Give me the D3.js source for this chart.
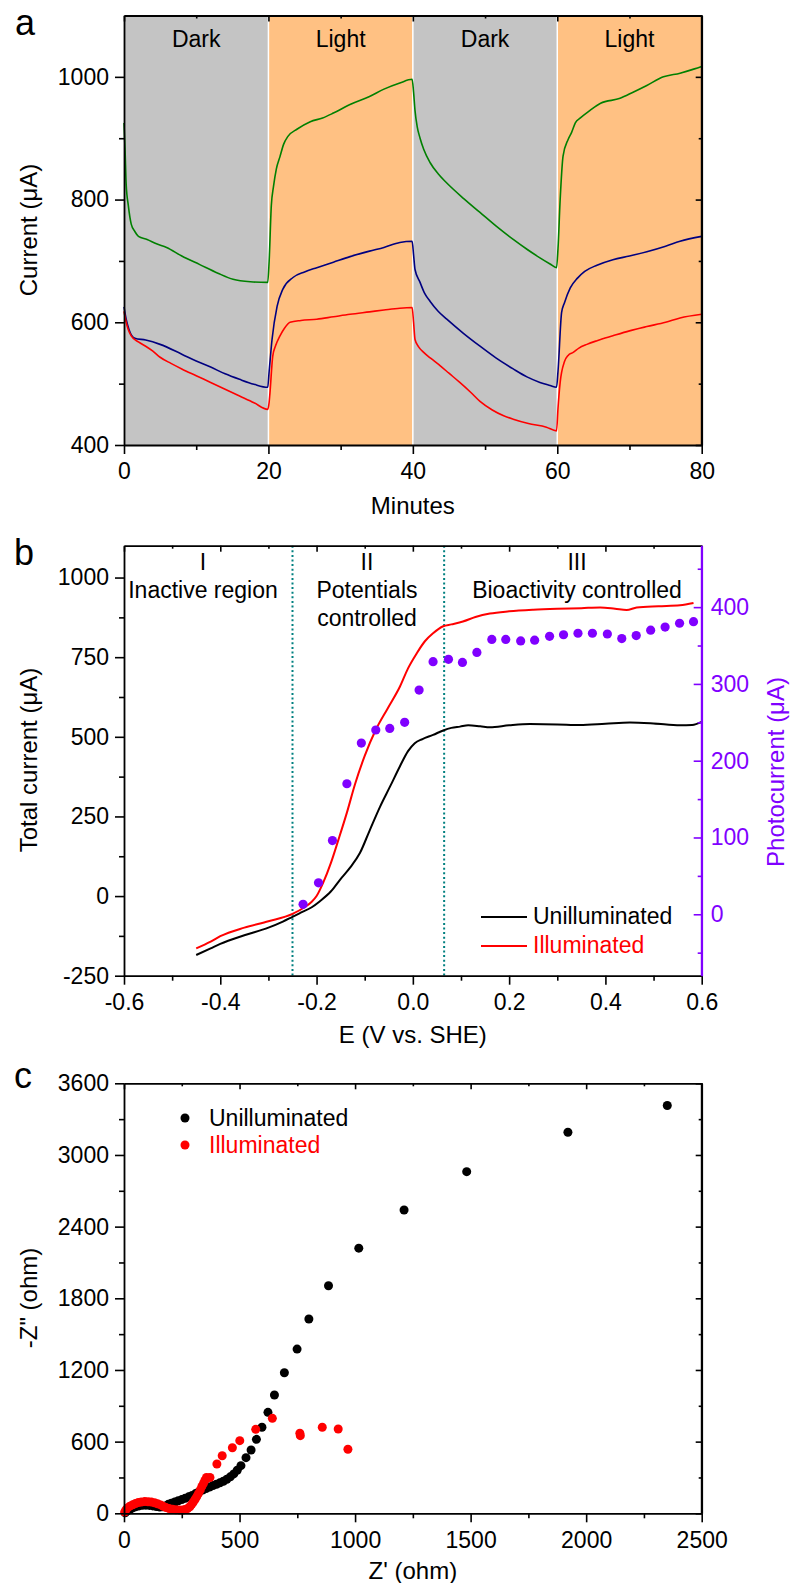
<!DOCTYPE html>
<html>
<head>
<meta charset="utf-8">
<script src="https://cdn.jsdelivr.net/npm/d3@7"></script>
<style>
body { margin: 0; background: #fff; }
svg text { font-family: "Liberation Sans", Arial, sans-serif; font-size: 23px; }
svg text.title { font-size: 24px; }
.tick text { fill: currentColor; }
.domain { stroke-width: 1.8px; }
.tick line { stroke-width: 1.6px; }
</style>
</head>
<body>
<div id="chart"></div>
<script>
// ---- Data: panel a (time in minutes, current in µA) ----
const bandStarts = [0, 20, 40, 60];
const bandLabels = ["Dark", "Light", "Dark", "Light"];

const greenCurrent = [
    [0,925],[0.15,880],[0.3,825],[0.6,790],[1,760],[1.5,748],[2,740],[3.2,735],[4.5,728],[5.9,722],[8,708],[10.5,694],[13,680],[15.1,670],[17.5,666],[19.9,665],
    [20.1,700],[20.4,790],[20.7,821],[21.1,850],[21.6,870],[22.1,890],[22.7,903],[24,915],[25.8,927],[27.5,933],[29,941],[31.3,955],[34,968],[36,980],[38.2,990],[39.9,996],
    [40.1,975],[40.3,945],[40.6,919],[41,900],[41.5,882],[42.4,860],[43.5,842],[44.7,827],[47,802],[49.3,779],[51.5,757],[53.9,735],[55.8,719],[57.6,705],[59,695],[59.9,689],
    [60.1,720],[60.4,800],[60.8,871],[61.5,898],[62,910],[62.5,925],[63.2,933],[64.5,945],[66,957],[68.7,965],[70.5,975],[72.4,986],[74.7,1000],[77,1006],[79,1013],[80,1017]
];
const navyCurrent = [
    [0,625],[0.3,605],[0.7,588],[1.5,574],[3,571],[5,564],[8,548],[10,537],[12,527],[14,516],[16,507],[18,499],[19.9,494],
    [20.1,520],[20.5,572],[21.2,626],[22,654],[23.4,673],[25,682],[26.7,689],[29,698],[31.3,707],[34,716],[36,722],[38.2,730],[39.9,732],
    [40.1,710],[40.3,686],[41,665],[41.6,648],[42.4,634],[43.5,618],[44.7,605],[47,582],[49.3,561],[51.5,542],[53.9,524],[55.8,511],[57.6,502],[59,497],[59.9,494],
    [60.1,520],[60.6,616],[61,632],[61.8,656],[62.8,672],[63.8,683],[65.5,693],[67.7,702],[70,708],[72.4,715],[75,724],[77,732],[80,740]
];
const redCurrent = [
    [0,618],[0.3,600],[0.6,588],[1,578],[2,568],[3,561],[4,553],[5,543],[6.5,533],[8,524],[10,513],[12,502],[14,491],[16,480],[18,469],[19.9,458],
    [20.1,470],[20.2,483],[20.6,545],[21,562],[21.6,578],[22.2,590],[23,600],[24.5,603],[26.7,605],[29,609],[31.3,613],[34,617],[36,620],[38.2,623],[39.9,624],
    [40.1,600],[40.3,572],[40.8,560],[41.5,551],[42.5,541],[43.8,529],[45,517],[46.5,502],[48,486],[49.3,471],[51,457],[52.5,448],[53.9,442],[56,435],[58.5,429],[59.9,423],
    [60.1,460],[60.4,502],[61,536],[61.5,546],[62.2,551],[63,558],[64.1,564],[65.5,570],[67.7,578],[70,586],[72.4,593],[75,600],[77,607],[80,613]
];

// ---- Data: panel b (E in V vs SHE, current in µA) ----
const darkLSV = [
    [-0.45,-185],[-0.42,-164],[-0.4,-150],[-0.35,-123],[-0.3,-99],[-0.27,-80],[-0.25,-65],[-0.234,-53],[-0.21,-35],[-0.193,-16],[-0.17,15],[-0.151,52],[-0.13,90],[-0.11,135],[-0.09,205],[-0.068,281],[-0.047,345],[-0.027,407],[-0.01,455],[0.004,480],[0.02,493],[0.042,506],[0.063,520],[0.08,528],[0.098,532],[0.115,536],[0.14,533],[0.16,530],[0.2,536],[0.243,540],[0.3,539],[0.347,537],[0.4,541],[0.451,545],[0.5,542],[0.555,536],[0.58,537],[0.6,547]
];
const lightLSV = [
    [-0.45,-164],[-0.42,-143],[-0.4,-126],[-0.35,-99],[-0.3,-79],[-0.25,-56],[-0.225,-35],[-0.21,-18],[-0.2,0],[-0.186,43],[-0.17,105],[-0.155,175],[-0.137,262],[-0.12,352],[-0.1,440],[-0.077,522],[-0.052,590],[-0.027,657],[-0.01,715],[0.008,762],[0.025,800],[0.042,825],[0.063,847],[0.08,853],[0.104,862],[0.13,876],[0.16,887],[0.2,894],[0.25,899],[0.3,902],[0.35,904],[0.389,906],[0.42,902],[0.444,898],[0.465,906],[0.51,910],[0.555,913],[0.583,920]
];
const photoCurrent = [
    [-0.228,13],[-0.196,41],[-0.167,96],[-0.137,170],[-0.107,223],[-0.077,240],[-0.048,242],[-0.017,250],[0.013,292],[0.042,329],[0.074,332],[0.103,328],[0.133,341],[0.164,358],[0.193,358],[0.224,356],[0.253,357],[0.284,362],[0.313,364],[0.343,366],[0.373,366],[0.404,365],[0.434,359],[0.464,363],[0.494,370],[0.524,374],[0.554,379],[0.583,381]
];
const regionBounds = [-0.25, 0.065];
const regionNumerals = ["I", "II", "III"];
const regionNames = [["Inactive region"], ["Potentials", "controlled"], ["Bioactivity controlled"]];

// ---- Data: panel c (Z' and -Z'' in ohm) ----
const nyquistDark = [
    [5,5],[15,20],[25,32],[38,45],[50,55],[65,62],[80,67],[95,68],[110,66],[125,62],[140,56],[155,52],[168,55],[180,62],[192,75],[205,85],[220,95],[235,105],[250,115],[265,126],[280,138],[295,150],[310,165],[325,180],[340,195],[355,208],[370,220],[385,232],[400,243],[415,255],[430,268],[445,285],[460,305],[475,330],[490,360],[506,399],[528,466],[550,530],[573,619],[597,720],[623,845],[651,990],[694,1177],[749,1375],[800,1627],[885,1905],[1016,2220],[1212,2539],[1483,2860],[1921,3190],[2351,3414]
];
const nyquistLight = [
    [3,10],[8,28],[15,45],[25,60],[38,72],[50,82],[62,90],[75,95],[90,98],[104,97],[118,94],[132,88],[145,80],[158,70],[170,58],[182,48],[195,40],[210,34],[225,30],[240,28],[255,28],[265,32],[275,40],[285,55],[293,75],[300,95],[308,118],[315,140],[322,165],[330,195],[337,225],[344,251],[350,275],[357,300],[372,300],[402,413],[425,482],[469,549],[501,608],[570,703],[642,795],[761,670],[763,650],[858,720],[927,706],[969,536]
];

const purple = "#8000ff";
const svg = d3.select("#chart").append("svg").attr("width", 793).attr("height", 1583);

// axis helper: major ticks with labels, minor ticks without
function addAxis(orient, scale, major, minor, opt) {
    const make = { left: d3.axisLeft, right: d3.axisRight, top: d3.axisTop, bottom: d3.axisBottom }[orient];
    const g = svg.append("g").attr("transform", `translate(${opt.tx || 0},${opt.ty || 0})`)
        .style("color", opt.color || "#000");
    g.append("g").call(make(scale).tickValues(minor).tickSize(opt.minor).tickFormat(""))
        .call(s => s.select(".domain").remove());
    g.append("g").call(make(scale).tickValues(major).tickSize(opt.major).tickSizeOuter(0)
        .tickPadding(opt.pad || 6).tickFormat(opt.fmt || (() => "")));
    return g;
}

function frameAxes(x, y, top, bottom, left, xt, yt) {
    addAxis("bottom", x, xt.major, xt.minor, { ty: bottom, major: 9, minor: 5, pad: 9, fmt: xt.fmt });
    addAxis("top", x, xt.major, xt.minor, { ty: top, major: -6, minor: -3 });
    addAxis("left", y, yt.major, yt.minor, { tx: left, major: 9, minor: 5, pad: 6, fmt: yt.fmt });
}

function panelLetter(txt, x, y) {
    svg.append("text").attr("x", x).attr("y", y).style("font-size", "36px").text(txt);
}

function xTitle(txt, x, y) {
    svg.append("text").attr("class", "title").attr("x", x).attr("y", y)
        .attr("text-anchor", "middle").text(txt);
}

function yTitle(txt, x, y, color) {
    svg.append("text").attr("class", "title").attr("transform", `translate(${x},${y}) rotate(-90)`)
        .attr("text-anchor", "middle").attr("fill", color || "#000").text(txt);
}

const L = 124, R = 701.7;

// ================= Panel a =================
const xA = d3.scaleLinear().domain([0, 80]).range([L, R]);
const yA = d3.scaleLinear().domain([400, 1100]).range([445, 15.5]);

svg.selectAll(".band").data(bandStarts).enter().append("rect")
    .attr("x", d => xA(d)).attr("width", d => xA(d + 20) - xA(d))
    .attr("y", yA(1100)).attr("height", yA(400) - yA(1100))
    .attr("fill", (d, i) => i % 2 === 0 ? "#c4c4c4" : "#ffc183");
svg.selectAll(".sep").data(bandStarts.slice(1)).enter().append("line")
    .attr("x1", d => xA(d)).attr("x2", d => xA(d))
    .attr("y1", yA(1100)).attr("y2", yA(400))
    .attr("stroke", "#fff").attr("stroke-width", 1.5);
svg.selectAll(".bandLabel").data(bandStarts).enter().append("text")
    .attr("x", d => xA(d + 10)).attr("y", 47).attr("text-anchor", "middle")
    .text((d, i) => bandLabels[i]);

const lineA = d3.line().x(d => xA(d[0])).y(d => yA(d[1])).curve(d3.curveMonotoneX);
[[greenCurrent, "#008000"], [navyCurrent, "#000080"], [redCurrent, "#ff0000"]].forEach(([s, c]) => {
    svg.append("path").datum(s).attr("d", lineA).attr("fill", "none")
        .attr("stroke", c).attr("stroke-width", 1.6);
});

frameAxes(xA, yA, 15.5, 445, L,
    { major: [0, 20, 40, 60, 80], minor: [10, 30, 50, 70], fmt: d => d },
    { major: [400, 600, 800, 1000], minor: [500, 700, 900], fmt: d => d });
addAxis("right", yA, [400, 600, 800, 1000], [500, 700, 900, 1100], { tx: R, major: -6, minor: -3 });
svg.append("line").attr("x1", R).attr("x2", R).attr("y1", 15.5).attr("y2", 445)
    .attr("stroke", "#000").attr("stroke-width", 1.8);

xTitle("Minutes", (L + R) / 2, 514);
yTitle("Current (\u03bcA)", 37, 230);
panelLetter("a", 15, 35);

// ================= Panel b =================
const xB = d3.scaleLinear().domain([-0.6, 0.6]).range([L, R]);
const yB = d3.scaleLinear().domain([-250, 1100]).range([975.7, 545.7]);
const yP = d3.scaleLinear().domain([-80, 480]).range([975.7, 545.7]);

svg.selectAll(".region").data(regionBounds).enter().append("line")
    .attr("x1", d => xB(d)).attr("x2", d => xB(d))
    .attr("y1", yB(1100)).attr("y2", yB(-250))
    .attr("stroke", "#008080").attr("stroke-width", 2).attr("stroke-dasharray", "2,2.6");

const regionCenters = [203, 367, 577];
regionNumerals.forEach((n, i) => {
    svg.append("text").attr("x", regionCenters[i]).attr("y", 570).attr("text-anchor", "middle").text(n);
    regionNames[i].forEach((t, j) => {
        svg.append("text").attr("x", regionCenters[i]).attr("y", 598 + j * 28)
            .attr("text-anchor", "middle").text(t);
    });
});

const lineB = d3.line().x(d => xB(d[0])).y(d => yB(d[1])).curve(d3.curveMonotoneX);
svg.append("path").datum(darkLSV).attr("d", lineB).attr("fill", "none").attr("stroke", "#000").attr("stroke-width", 2);
svg.append("path").datum(lightLSV).attr("d", lineB).attr("fill", "none").attr("stroke", "#ff0000").attr("stroke-width", 2);

svg.selectAll(".photo").data(photoCurrent).enter().append("circle")
    .attr("cx", d => xB(d[0])).attr("cy", d => yP(d[1])).attr("r", 4.6).attr("fill", purple);

frameAxes(xB, yB, 545.7, 975.7, L,
    { major: [-0.6, -0.4, -0.2, 0, 0.2, 0.4, 0.6], minor: [-0.5, -0.3, -0.1, 0.1, 0.3, 0.5], fmt: d => d.toFixed(1) },
    { major: [-250, 0, 250, 500, 750, 1000], minor: [-125, 125, 375, 625, 875], fmt: d => String(d) });
addAxis("right", yP, [0, 100, 200, 300, 400], [-50, 50, 150, 250, 350, 450],
    { tx: R, major: -8, minor: -4, pad: 9, color: purple, fmt: d => d });
svg.append("line").attr("x1", R).attr("x2", R).attr("y1", 545.7).attr("y2", 975.7)
    .attr("stroke", purple).attr("stroke-width", 1.8);

// legend b
[["Unilluminated", "#000", 917], ["Illuminated", "#ff0000", 946]].forEach(([t, c, yy]) => {
    svg.append("line").attr("x1", 481).attr("x2", 527).attr("y1", yy).attr("y2", yy)
        .attr("stroke", c).attr("stroke-width", 2);
    svg.append("text").attr("x", 533).attr("y", yy + 7).attr("fill", c).text(t);
});

xTitle("E (V vs. SHE)", (L + R) / 2, 1043);
yTitle("Total current (\u03bcA)", 37, 760);
yTitle("Photocurrent (\u03bcA)", 784, 772, purple);
panelLetter("b", 14, 565);

// ================= Panel c =================
const xC = d3.scaleLinear().domain([0, 2500]).range([L, R]);
const yC = d3.scaleLinear().domain([0, 3600]).range([1513.3, 1083.3]);

svg.selectAll(".nd").data(nyquistDark).enter().append("circle")
    .attr("cx", d => xC(d[0])).attr("cy", d => yC(d[1])).attr("r", 4.5).attr("fill", "#000");
svg.selectAll(".nl").data(nyquistLight).enter().append("circle")
    .attr("cx", d => xC(d[0])).attr("cy", d => yC(d[1])).attr("r", 4.5).attr("fill", "#ff0000");

frameAxes(xC, yC, 1083.3, 1513.3, L,
    { major: [0, 500, 1000, 1500, 2000, 2500], minor: [250, 750, 1250, 1750, 2250], fmt: d => d },
    { major: [0, 600, 1200, 1800, 2400, 3000, 3600], minor: [300, 900, 1500, 2100, 2700, 3300], fmt: d => d });
addAxis("right", yC, [0, 600, 1200, 1800, 2400, 3000, 3600], [300, 900, 1500, 2100, 2700, 3300], { tx: R, major: -6, minor: -3 });
svg.append("line").attr("x1", R).attr("x2", R).attr("y1", 1083.3).attr("y2", 1513.3)
    .attr("stroke", "#000").attr("stroke-width", 1.8);

// legend c
[["Unilluminated", "#000", 1118], ["Illuminated", "#ff0000", 1145]].forEach(([t, c, yy]) => {
    svg.append("circle").attr("cx", 185).attr("cy", yy).attr("r", 4.5).attr("fill", c);
    svg.append("text").attr("x", 209).attr("y", yy + 8).attr("fill", c).text(t);
});

xTitle("Z' (ohm)", (L + R) / 2, 1579);
yTitle("-Z\" (ohm)", 37, 1298);
panelLetter("c", 14, 1088);
</script>
</body>
</html>
